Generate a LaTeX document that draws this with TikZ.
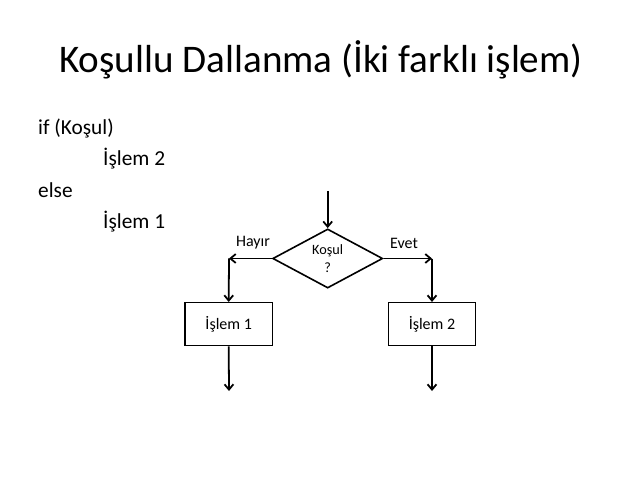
\documentclass[tikz,border=0pt]{standalone}
\usepackage{fontspec}
\setmainfont{Carlito}
\usetikzlibrary{shapes.geometric,arrows.meta}

\begin{document}
\begin{tikzpicture}[x=1.125pt,y=-1.125pt,
baslik/.style={font=\fontsize{44}{53}\selectfont,anchor=base,inner sep=0pt},
kod/.style={font=\fontsize{24}{29}\selectfont,anchor=base west,inner sep=0pt},
karar/.style={diamond,draw=black,line width=1.8pt,minimum width=123.75pt,minimum height=65.25pt,inner sep=0pt,align=center,font=\fontsize{16}{20.5}\selectfont},
islem/.style={rectangle,draw=black,line width=1.6pt,minimum width=97.9pt,minimum height=48.4pt,font=\fontsize{18}{22}\selectfont},
etiket/.style={font=\fontsize{18}{22}\selectfont,inner sep=0pt},
ok/.style={line width=2pt,-{Straight Barb[length=6pt,width=10pt]}}]
\useasboundingbox (0,0) rectangle (640,480);

% Baslik
\node[baslik] (baslik) at (321,72.3) {Koşullu Dallanma (İki farklı işlem)};

% Kod
\node[kod] (kodif) at (38,135) {if (Koşul)};
\node[kod] (kodislem2) at (103,166) {İşlem 2};
\node[kod] (kodelse) at (38,197) {else};
\node[kod] (kodislem1) at (103,228) {İşlem 1};

% Akis diyagrami
\node[karar] (kosul) at (327.7,258.5) {Koşul\\?};
\node[islem] (islem1) at (228.7,324.2) {İşlem 1};
\node[islem] (islem2) at (432,324.2) {İşlem 2};
\node[etiket] (hayir) at (253,242.5) {Hayır};
\node[etiket] (evet) at (404,243.5) {Evet};

\coordinate (giris) at (327.7,191);
\coordinate (hayirKose) at (229,258.5);
\coordinate (evetKose) at (432,258.5);
\coordinate (cikis1) at (229,391);
\coordinate (cikis2) at (432,391);

% Oklar
\draw[ok] (giris) -- (kosul.north);
\draw[ok] (kosul.west) -- (hayirKose);
\draw[ok] (kosul.east) -- (evetKose);
\draw[ok] (hayirKose) -- (islem1.north);
\draw[ok] (evetKose) -- (islem2.north);
\draw[ok] (islem1.south) -- (cikis1);
\draw[ok] (islem2.south) -- (cikis2);

\end{tikzpicture}
\end{document}
